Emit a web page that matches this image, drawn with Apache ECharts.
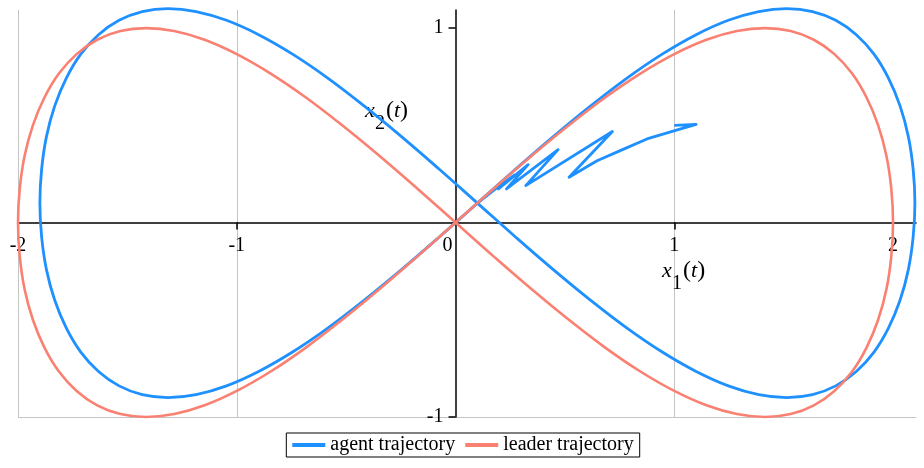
<!DOCTYPE html>
<html>
<head>
<meta charset="utf-8">
<script src="https://cdn.jsdelivr.net/npm/echarts@6/dist/echarts.min.js"></script>
<style>
  html, body { margin: 0; padding: 0; background: #fff; }
  #chart { width: 924px; height: 468px; }
</style>
</head>
<body>
<div id="chart"></div>
<script>
// leader figure-eight, points (starting at the origin crossing)
const leaderX = [
  0, -0.174, -0.347, -0.518, -0.684, -0.845, -1.0, -1.147, -1.286, -1.414, -1.532, -1.638, -1.732, -1.813, -1.879, -1.932, -1.970, -1.992, -2.0,
  -1.992, -1.970, -1.932, -1.879, -1.813, -1.732, -1.638, -1.532, -1.414, -1.286, -1.147, -1.0, -0.845, -0.684, -0.518, -0.347, -0.174, 0,
  0.174, 0.347, 0.518, 0.684, 0.845, 1.0, 1.147, 1.286, 1.414, 1.532, 1.638, 1.732, 1.813, 1.879, 1.932, 1.970, 1.992, 2.0,
  1.992, 1.970, 1.932, 1.879, 1.813, 1.732, 1.638, 1.532, 1.414, 1.286, 1.147, 1.0, 0.845, 0.684, 0.518, 0.347, 0.174, 0];
const leaderY = [
  0, -0.174, -0.342, -0.5, -0.643, -0.766, -0.866, -0.940, -0.985, -1, -0.985, -0.940, -0.866, -0.766, -0.643, -0.5, -0.342, -0.174, 0,
  0.174, 0.342, 0.5, 0.643, 0.766, 0.866, 0.940, 0.985, 1, 0.985, 0.940, 0.866, 0.766, 0.643, 0.5, 0.342, 0.174, 0,
  -0.174, -0.342, -0.5, -0.643, -0.766, -0.866, -0.940, -0.985, -1, -0.985, -0.940, -0.866, -0.766, -0.643, -0.5, -0.342, -0.174, 0,
  0.174, 0.342, 0.5, 0.643, 0.766, 0.866, 0.940, 0.985, 1, 0.985, 0.940, 0.866, 0.766, 0.643, 0.5, 0.342, 0.174, 0];

// agent: zig-zag start-up before it settles on its loop
const agentStartX = [1.00, 1.10, 1.01, 0.875, 0.753, 0.647, 0.519, 0.717, 0.321, 0.469,
  0.233, 0.332, 0.196, 0.27, 0.18, 0.1];
const agentStartY = [0.50, 0.505, 0.475, 0.43, 0.37, 0.318, 0.233, 0.468, 0.19, 0.375,
  0.173, 0.298, 0.173, 0.245, 0.17, 0.1];

// agent loop once settled
const agentLoopX = [
  0.1, -0.074, -0.247, -0.418, -0.584, -0.745, -0.9, -1.047, -1.186, -1.314, -1.432, -1.538, -1.632, -1.713, -1.779, -1.832, -1.870, -1.892, -1.9,
  -1.892, -1.870, -1.832, -1.779, -1.713, -1.632, -1.538, -1.432, -1.314, -1.186, -1.047, -0.9, -0.745, -0.584, -0.418, -0.247, -0.074, 0.1,
  0.274, 0.447, 0.618, 0.784, 0.945, 1.1, 1.247, 1.386, 1.514, 1.632, 1.738, 1.832, 1.913, 1.979, 2.032, 2.070, 2.092, 2.1,
  2.092, 2.070, 2.032, 1.979, 1.913, 1.832, 1.738, 1.632, 1.514, 1.386, 1.247, 1.1, 0.945, 0.784, 0.618, 0.447, 0.274, 0.1];
const agentLoopY = [
  0.1, -0.074, -0.242, -0.4, -0.543, -0.666, -0.766, -0.840, -0.885, -0.9, -0.885, -0.840, -0.766, -0.666, -0.543, -0.4, -0.242, -0.074, 0.1,
  0.274, 0.442, 0.6, 0.743, 0.866, 0.966, 1.040, 1.085, 1.1, 1.085, 1.040, 0.966, 0.866, 0.743, 0.6, 0.442, 0.274, 0.1,
  -0.074, -0.242, -0.4, -0.543, -0.666, -0.766, -0.840, -0.885, -0.9, -0.885, -0.840, -0.766, -0.666, -0.543, -0.4, -0.242, -0.074, 0.1,
  0.274, 0.442, 0.6, 0.743, 0.866, 0.966, 1.040, 1.085, 1.1, 1.085, 1.040, 0.966, 0.866, 0.743, 0.6, 0.442, 0.274, 0.1];

const xTickLabels = [-2, -1, 0, 1, 2];
const xTicks = [-2, -1, 1, 2];
const yTickLabels = [-1, 1];
const seriesNames = ['agent trajectory', 'leader trajectory'];

const SERIF = '"Liberation Serif", "Times New Roman", serif';
const BLUE = '#1e90ff';
const RED = '#fa8072';

// plot box and axis ranges
const W = 924, H = 468;
const G = { left: 18, right: 8, top: 10, bottom: 51 };
const X_MIN = -2, X_MAX = 2.105, Y_MIN = -1, Y_MAX = 1.093;

// axes cross at the origin: shift them in from the grid edges
const plotW = W - G.left - G.right;
const plotH = H - G.top - G.bottom;
const xZeroFromLeft = plotW * (0 - X_MIN) / (X_MAX - X_MIN);
const yZeroFromBottom = plotH * (0 - Y_MIN) / (Y_MAX - Y_MIN);

function pairs(xs, ys) {
  return xs.map((x, i) => [x, ys[i]]);
}

const chart = echarts.init(document.getElementById('chart'), null, { renderer: 'canvas' });

const option = {
  animation: false,
  grid: Object.assign({ containLabel: false, outerBoundsMode: 'none' }, G),
  legend: {
    data: seriesNames,
    top: 433,
    left: 'center',
    borderColor: '#000',
    borderWidth: 1,
    borderRadius: 0,
    padding: [2, 6, 2, 4],
    itemGap: 8,
    itemWidth: 33,
    itemHeight: 4,
    lineStyle: { width: 4 },
    textStyle: { fontFamily: SERIF, fontSize: 20, color: '#000' }
  },
  xAxis: {
    type: 'value',
    min: X_MIN,
    max: X_MAX,
    interval: 1,
    position: 'bottom',
    offset: -yZeroFromBottom,
    axisLine: { onZero: false, lineStyle: { color: '#000', width: 1.5 } },
    axisTick: { customValues: xTicks, length: 7, lineStyle: { color: '#000', width: 1.5 } },
    axisLabel: {
      customValues: xTickLabels,
      margin: 13,
      fontFamily: SERIF,
      fontSize: 20,
      color: '#000',
      formatter: v => v === 0 ? '{z|0}' : String(v),
      rich: { z: { fontFamily: SERIF, fontSize: 20, color: '#000', padding: [0, 16, 0, 0] } }
    },
    splitLine: { show: true, showMinLine: true, showMaxLine: false, lineStyle: { color: '#c4c4c4', width: 1 } }
  },
  yAxis: {
    type: 'value',
    min: Y_MIN,
    max: Y_MAX,
    interval: 1,
    position: 'left',
    offset: -xZeroFromLeft,
    axisLine: { onZero: false, lineStyle: { color: '#000', width: 1.5 } },
    axisTick: { customValues: yTickLabels, length: 7, lineStyle: { color: '#000', width: 1.5 } },
    axisLabel: {
      customValues: yTickLabels,
      margin: 12,
      fontFamily: SERIF,
      fontSize: 20,
      color: '#000'
    },
    splitLine: { show: true, showMinLine: true, showMaxLine: false, lineStyle: { color: '#c4c4c4', width: 1 } }
  },
  series: [
    {
      name: seriesNames[0],
      type: 'line',
      data: pairs(agentStartX, agentStartY),
      symbol: 'none',
      clip: false,
      color: BLUE,
      lineStyle: { color: BLUE, width: 2.8, join: 'round' },
      z: 2
    },
    {
      name: seriesNames[0],
      type: 'line',
      data: pairs(agentLoopX, agentLoopY),
      symbol: 'none',
      smooth: 0.4,
      clip: false,
      color: BLUE,
      lineStyle: { color: BLUE, width: 2.8, join: 'round' },
      z: 2
    },
    {
      name: seriesNames[1],
      type: 'line',
      data: pairs(leaderX, leaderY),
      symbol: 'none',
      smooth: 0.4,
      clip: false,
      color: RED,
      lineStyle: { color: RED, width: 2.6, join: 'round' },
      z: 3
    }
  ]
};
chart.setOption(option);

// axis names x1(t), x2(t) with subscripts, anchored in data space
function axisName(sub, at) {
  const p = chart.convertToPixel({ gridIndex: 0 }, at);
  return {
    type: 'group',
    x: p[0],
    y: p[1],
    children: [
      { type: 'text', style: { text: 'x', x: 0, y: 0, font: 'italic 22px ' + SERIF, fill: '#000', textVerticalAlign: 'middle' } },
      { type: 'text', style: { text: sub, x: 10, y: 13, font: '20px ' + SERIF, fill: '#000', textVerticalAlign: 'middle' } },
      {
        type: 'text',
        style: {
          text: '{n|(}{i|t}{n|)}',
          x: 21, y: 0,
          textVerticalAlign: 'middle',
          rich: {
            n: { fontFamily: SERIF, fontSize: 24, color: '#000' },
            i: { fontFamily: SERIF, fontSize: 22, fontStyle: 'italic', color: '#000' }
          }
        }
      }
    ]
  };
}

chart.setOption({
  graphic: [
    axisName('1', [0.944, -0.249]),
    axisName('2', [-0.414, 0.573])
  ]
});
</script>
</body>
</html>
